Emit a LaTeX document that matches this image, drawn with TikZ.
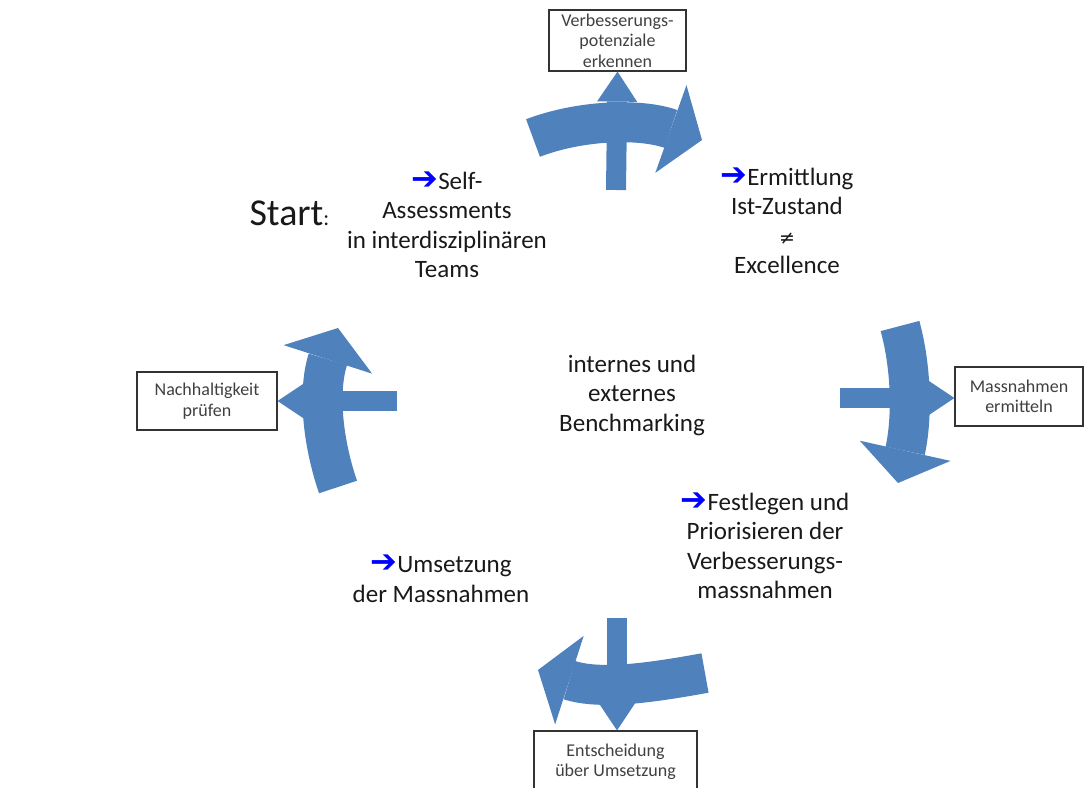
\documentclass[tikz,border=0pt]{standalone}
\usepackage{fontspec}
\setmainfont{Carlito}
\newfontfamily\symfont{DejaVu Sans}
\usepackage{tikz}
\usetikzlibrary{arrows.meta}
\definecolor{officeblue}{RGB}{79,129,189}
\newcommand{\pfeil}{{\symfont\fontsize{32}{29.5}\selectfont\color{blue}\char"2794}}
\newcommand{\ungleich}{{\symfont\fontsize{19}{29.5}\selectfont\char"2260}}
\tikzset{
  bandarr/.style  = {officeblue, line width=40pt,
                     -{Triangle[length=33pt,width=93pt,line width=0pt]}},
  stemarr/.style  = {officeblue, line width=20pt,
                     -{Triangle[length=30pt,width=40pt,line width=0pt]}},
  infobox/.style  = {draw=black!80, line width=1.2pt, fill=white, align=center,
                     inner sep=0pt, text=black!75,
                     font=\fontsize{18}{20.5}\selectfont},
  steptext/.style = {align=center, text=black!90,
                     font=\fontsize{25}{29.5}\selectfont}
}

\begin{document}
\begin{tikzpicture}[x=1pt,y=-1pt]
  \useasboundingbox (0,0) rectangle (1084,787);
  \clip (0,0) rectangle (1084,787);
  % the four boxes round the cycle
  \node[infobox,minimum width=137pt,minimum height=61pt] (potenz) at (617.5,40.5)
       {Verbesserungs-\\potenziale\\erkennen};
  \node[infobox,minimum width=128pt,minimum height=59pt] (massn) at (1019,396.5)
       {Massnahmen\\ermitteln};
  \node[infobox,minimum width=163pt,minimum height=62pt] (entsch) at (615.5,762)
       {Entscheidung\\über Umsetzung};
  \node[infobox,minimum width=140pt,minimum height=58pt] (nachh) at (207,401)
       {Nachhaltigkeit\\prüfen};
  % curved arrows of the cycle
  \coordinate (t0) at (533,138);  \coordinate (t1) at (702,140);
  \coordinate (r0) at (900,326);  \coordinate (r1) at (898,483);
  \coordinate (b0) at (705,673);  \coordinate (b1) at (538,670);
  \coordinate (l0) at (338,487);  \coordinate (l1) at (338,328);
  \draw[bandarr] (t0) .. controls (580,120) and (640,118) .. (t1);
  \draw[bandarr] (r0) .. controls (912,370) and (912,420) .. (r1);
  \draw[bandarr] (b0) .. controls (650,683) and (600,690) .. (b1);
  \draw[bandarr] (l0) .. controls (322,440) and (318,390) .. (l1);
  % straight arrows out to the boxes
  \coordinate (ts) at (616,190);
  \coordinate (rs) at (840,398);
  \coordinate (bs) at (617,618);
  \coordinate (ls) at (397,401);
  \draw[stemarr] (ts) -- (potenz.south);
  \draw[stemarr] (rs) -- (massn.west |- rs);
  \draw[stemarr] (bs) -- (entsch.north -| bs);
  \draw[stemarr] (ls) -- (nachh.east |- ls);
  % the steps
  \node[anchor=base west,text=black!90,font=\fontsize{38}{40}\selectfont] (start)
       at (246,225) {Start{\fontsize{22}{24}\selectfont:}};
  \node[steptext] (self) at (447,225)
       {\pfeil Self-\\Assessments\\in interdisziplinären\\Teams};
  \node[steptext] (ermittl) at (787,221)
       {\pfeil Ermittlung\\Ist-Zustand\\\ungleich\\Excellence};
  \node[steptext] (bench) at (632,395)
       {internes und\\externes\\Benchmarking};
  \node[steptext] (festl) at (765,546)
       {\pfeil Festlegen und\\Priorisieren der\\Verbesserungs-\\massnahmen};
  \node[steptext] (umsetz) at (441,579)
       {\pfeil Umsetzung\\der Massnahmen};
\end{tikzpicture}
\end{document}
